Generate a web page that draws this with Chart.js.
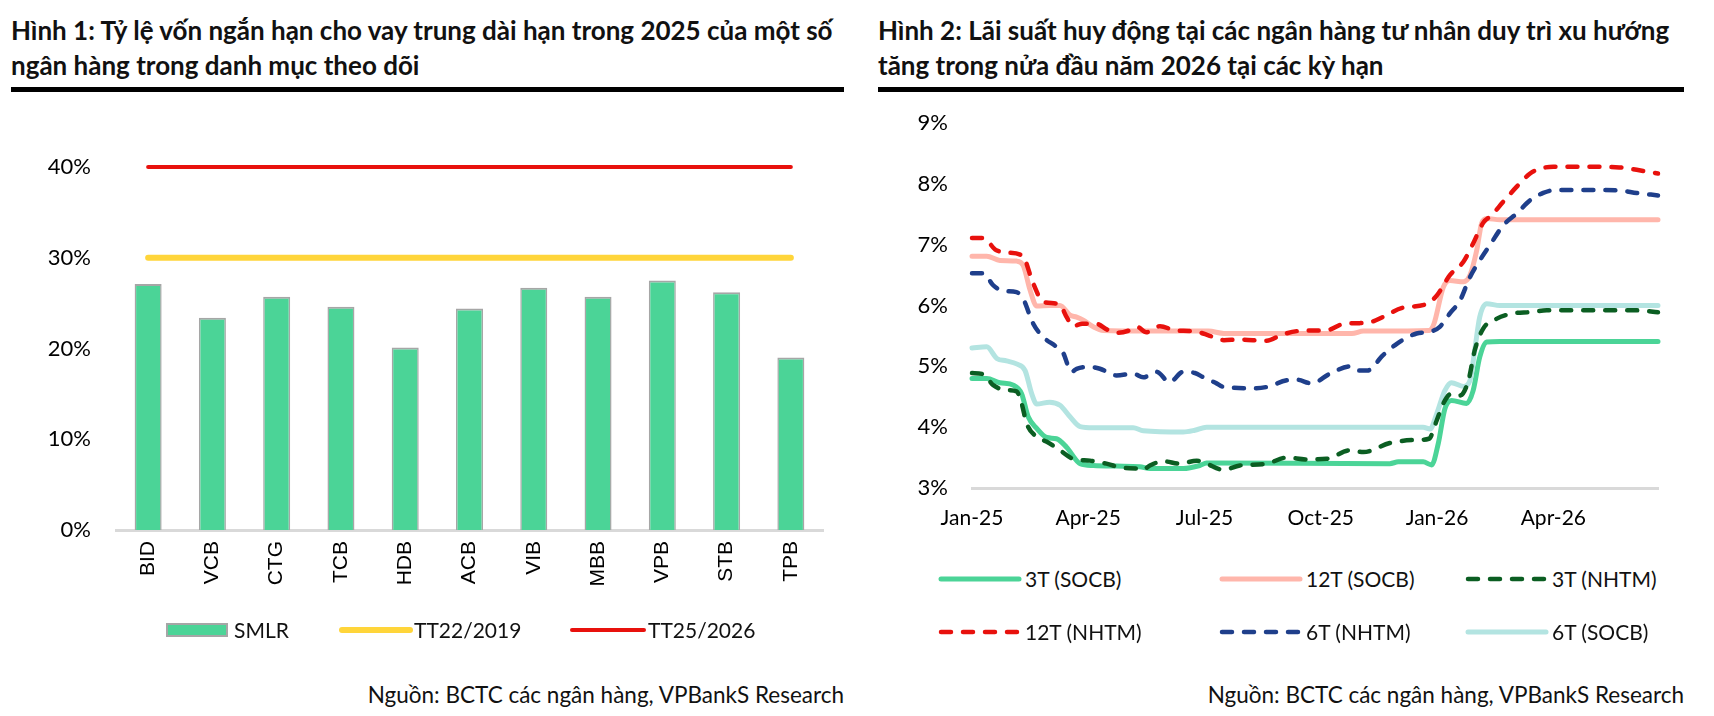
<!DOCTYPE html>
<html lang="vi">
<head>
<meta charset="utf-8">
<title>Hình 1 - Hình 2</title>
<script src="https://cdn.jsdelivr.net/npm/chart.js@4.4.1/dist/chart.umd.min.js"></script>
<style>
  body { margin: 0; width: 1714px; height: 716px; background: #fff; position: relative; overflow: hidden; font-family: Lato, sans-serif; color: #111; }
  .title { position: absolute; top: 13px; font-weight: 700; font-size: 26px; line-height: 35px; white-space: nowrap; }
  .rule { position: absolute; top: 87px; height: 5px; background: #000; }
  .src { position: absolute; top: 682px; font-size: 22.5px; line-height: 26px; white-space: nowrap; }
  .lg { position: absolute; font-size: 21px; line-height: 24px; white-space: nowrap; }
  .lgsym { position: absolute; }
  canvas { position: absolute; }
</style>
</head>
<body>

<div class="title" style="left:11px">Hình 1: Tỷ lệ vốn ngắn hạn cho vay trung dài hạn trong 2025 của một số<br>ngân hàng trong danh mục theo dõi</div>
<div class="rule" style="left:11px; width:833px"></div>
<canvas id="smlrChart" width="857" height="620" style="left:0; top:0; width:857px; height:620px"></canvas>
<div id="legend1"></div>
<div class="src" style="right:870px">Nguồn: BCTC các ngân hàng, VPBankS Research</div>

<div class="title" style="left:878px">Hình 2: Lãi suất huy động tại các ngân hàng tư nhân duy trì xu hướng<br>tăng trong nửa đầu năm 2026 tại các kỳ hạn</div>
<div class="rule" style="left:878px; width:806px"></div>
<canvas id="rateChart" width="857" height="560" style="left:857px; top:0; width:857px; height:560px"></canvas>
<div id="legend2"></div>
<div class="src" style="right:30px">Nguồn: BCTC các ngân hàng, VPBankS Research</div>

<script>
// ---- Hình 1 ----
const banks = ["BID", "VCB", "CTG", "TCB", "HDB", "ACB", "VIB", "MBB", "VPB", "STB", "TPB"];
const smlr = [27.1, 23.4, 25.7, 24.6, 20.1, 24.4, 26.7, 25.7, 27.5, 26.2, 19.0];
const tt22 = [30, 30, 30, 30, 30, 30, 30, 30, 30, 30, 30];
const tt25 = [40, 40, 40, 40, 40, 40, 40, 40, 40, 40, 40];

// ---- Hình 2 ---- (x = tháng tính từ 01/2025)
const quarterLabels = ["Jan-25", "Apr-25", "Jul-25", "Oct-25", "Jan-26", "Apr-26"];
const socb3T = [[0,4.8],[0.38,4.8],[0.72,4.73],[1.07,4.69],[1.28,4.55],[1.45,4.17],[1.67,3.98],[1.93,3.83],[2.18,3.81],[2.44,3.67],[2.79,3.4],[3.13,3.37],[3.73,3.36],[4.33,3.35],[4.59,3.32],[5.45,3.32],[5.88,3.37],[6.05,3.41],[10.78,3.4],[11.0,3.43],[11.64,3.43],[11.86,3.38],[12.03,3.73],[12.2,4.3],[12.37,4.44],[12.76,4.39],[12.93,4.6],[13.1,5.15],[13.28,5.4],[13.62,5.41],[17.7,5.41]];
const socb12T = [[0,6.81],[0.38,6.81],[0.72,6.74],[1.15,6.73],[1.32,6.66],[1.5,6.25],[1.67,5.99],[2.0,6.0],[2.27,6.0],[2.53,5.84],[2.7,5.81],[2.87,5.76],[3.13,5.65],[3.39,5.59],[4.5,5.58],[6.1,5.58],[6.5,5.54],[9.8,5.54],[10.1,5.58],[11.8,5.59],[11.92,5.7],[12.16,6.3],[12.33,6.41],[12.68,6.39],[12.85,6.5],[13.02,6.9],[13.15,7.35],[13.28,7.43],[13.62,7.41],[17.7,7.41]];
const nhtm3T = [[0,4.89],[0.29,4.87],[0.55,4.69],[0.89,4.61],[1.15,4.59],[1.28,4.39],[1.41,4.06],[1.67,3.84],[1.93,3.76],[2.27,3.62],[2.61,3.48],[3.04,3.45],[3.47,3.4],[3.9,3.33],[4.25,3.32],[4.38,3.29],[4.59,3.37],[4.93,3.44],[5.37,3.4],[5.8,3.45],[6.05,3.4],[6.48,3.3],[6.91,3.37],[7.6,3.4],[8.12,3.5],[8.63,3.47],[9.15,3.48],[9.75,3.62],[10.1,3.59],[10.78,3.74],[11.47,3.79],[11.79,3.81],[11.99,4.11],[12.16,4.39],[12.37,4.55],[12.59,4.52],[12.81,4.77],[12.97,5.26],[13.19,5.62],[13.53,5.78],[13.96,5.87],[14.4,5.89],[14.83,5.92],[15.86,5.92],[17.15,5.92],[17.7,5.89]];
const nhtm12T = [[0,7.11],[0.3,7.11],[0.6,6.92],[0.9,6.87],[1.3,6.82],[1.58,6.36],[1.84,6.06],[2.25,6.02],[2.45,5.8],[2.6,5.66],[2.85,5.7],[3.2,5.7],[3.5,5.6],[3.75,5.55],[4.1,5.6],[4.25,5.65],[4.5,5.56],[4.85,5.66],[5.25,5.59],[5.6,5.58],[5.85,5.56],[6.1,5.51],[6.5,5.43],[6.9,5.44],[7.6,5.42],[8.0,5.52],[8.4,5.58],[8.9,5.59],[9.2,5.6],[9.6,5.7],[10.0,5.71],[10.3,5.73],[10.6,5.81],[11.1,5.96],[11.75,6.03],[12.0,6.17],[12.33,6.5],[12.68,6.72],[12.93,7.02],[13.2,7.37],[13.4,7.48],[13.7,7.7],[14.05,7.95],[14.4,8.17],[14.66,8.25],[15.0,8.28],[15.9,8.28],[16.7,8.27],[17.15,8.23],[17.7,8.17]];
const nhtm6T = [[0,6.53],[0.29,6.53],[0.55,6.33],[0.81,6.24],[1.15,6.22],[1.32,6.11],[1.58,5.7],[1.84,5.48],[2.18,5.32],[2.36,5.21],[2.49,4.99],[2.57,4.91],[2.7,4.96],[3.04,4.99],[3.3,4.96],[3.73,4.85],[4.16,4.88],[4.42,4.82],[4.76,4.91],[5.1,4.74],[5.45,4.91],[5.75,4.89],[5.97,4.82],[6.31,4.72],[6.5,4.66],[7.34,4.64],[7.6,4.66],[8.12,4.77],[8.38,4.78],[8.76,4.72],[9.24,4.88],[9.75,5.0],[10.0,4.93],[10.2,4.93],[10.6,5.18],[10.96,5.37],[11.47,5.54],[11.82,5.57],[12.07,5.65],[12.33,5.87],[12.59,6.08],[12.85,6.47],[13.1,6.74],[13.36,6.99],[13.71,7.32],[14.05,7.51],[14.4,7.73],[14.74,7.85],[15.08,7.9],[15.86,7.9],[16.72,7.89],[17.15,7.85],[17.7,7.81]];
const socb6T = [[0,5.3],[0.38,5.32],[0.64,5.13],[0.89,5.09],[1.15,5.04],[1.37,4.93],[1.54,4.55],[1.67,4.38],[2.0,4.41],[2.27,4.36],[2.53,4.17],[2.79,4.01],[3.13,3.99],[4.16,3.99],[4.42,3.94],[5.45,3.92],[5.75,3.95],[6.05,4.0],[11.64,4.0],[11.82,3.97],[11.99,4.22],[12.2,4.6],[12.37,4.73],[12.68,4.67],[12.85,4.77],[12.97,5.26],[13.1,5.81],[13.28,6.03],[13.62,6.0],[17.7,6.0]];

const GREEN = "#4BD497", PINK = "#FFB6AB", DKGREEN = "#0B5E22", RED = "#E8110D", BLUE = "#1F3F8B", CYAN = "#B3E4E1";
const YELLOW = "#FFD53A", BAR_EDGE = "#A6A6A6", AXIS = "#D9D9D9";
const DASH = [10, 12];

function toXY(arr) {
  return arr.map(p => ({ x: p[0], y: p[1] }));
}

// ---------- chart 1 ----------
new Chart(document.getElementById("smlrChart"), {
  type: "bar",
  data: {
    labels: banks,
    datasets: [
      { type: "line", label: "TT25/2026", data: tt25, borderColor: RED, borderWidth: 4, pointRadius: 0, borderCapStyle: "round", clip: false, order: 0 },
      { type: "line", label: "TT22/2019", data: tt22, borderColor: YELLOW, borderWidth: 6, pointRadius: 0, borderCapStyle: "round", clip: false, order: 1 },
      { label: "SMLR", data: smlr, backgroundColor: GREEN, borderColor: BAR_EDGE,
        borderWidth: { top: 2, left: 1.5, right: 1.5, bottom: 0 }, borderSkipped: "bottom",
        categoryPercentage: 1, barPercentage: 0.42, order: 2 }
    ]
  },
  options: {
    responsive: false,
    animation: false,
    layout: { padding: { top: 167, right: 34, left: 0, bottom: 0 } },
    plugins: { legend: { display: false }, tooltip: { enabled: false } },
    scales: {
      x: {
        grid: { display: false, drawTicks: false },
        border: { display: true, color: AXIS, width: 3 },
        ticks: { color: "#000", font: { family: "'Liberation Sans', Arial, sans-serif", size: 21 }, minRotation: 90, maxRotation: 90, padding: 11 },
        afterFit: s => { s.height = 90; }
      },
      y: {
        min: 0, max: 40,
        grid: { display: false, drawTicks: false },
        border: { display: false },
        ticks: { stepSize: 10, color: "#000", font: { family: "Lato, sans-serif", size: 22 }, padding: 25, callback: v => v + "%" },
        afterFit: s => { s.width = 116; }
      }
    }
  }
});

// ---------- chart 2 ----------
function lineSet(label, pts, color, dashed) {
  return {
    label: label, data: toXY(pts), borderColor: color, backgroundColor: color,
    borderWidth: dashed ? 4.5 : 5, borderDash: dashed ? DASH : [], borderCapStyle: "round", borderJoinStyle: "round",
    pointRadius: 0, cubicInterpolationMode: "monotone", clip: false
  };
}

new Chart(document.getElementById("rateChart"), {
  type: "line",
  data: {
    datasets: [
      lineSet("12T (NHTM)", nhtm12T, RED, true),
      lineSet("6T (NHTM)", nhtm6T, BLUE, true),
      lineSet("3T (NHTM)", nhtm3T, DKGREEN, true),
      lineSet("12T (SOCB)", socb12T, PINK, false),
      lineSet("6T (SOCB)", socb6T, CYAN, false),
      lineSet("3T (SOCB)", socb3T, GREEN, false)
    ]
  },
  options: {
    responsive: false,
    animation: false,
    layout: { padding: { top: 123, right: 56, left: 0, bottom: 0 } },
    plugins: { legend: { display: false }, tooltip: { enabled: false } },
    scales: {
      x: {
        type: "linear", min: 0, max: 17.7,
        grid: { display: false, drawTicks: false },
        border: { display: true, color: AXIS, width: 3 },
        ticks: { stepSize: 3, includeBounds: false, color: "#000", font: { family: "Lato, sans-serif", size: 21 }, padding: 18, maxRotation: 0,
          callback: v => quarterLabels[v / 3] },
        afterFit: s => { s.height = 72; }
      },
      y: {
        min: 3, max: 9,
        grid: { display: false, drawTicks: false },
        border: { display: false },
        ticks: { stepSize: 1, color: "#000", font: { family: "Lato, sans-serif", size: 22 }, padding: 24, callback: v => v + "%" },
        afterFit: s => { s.width = 115; }
      }
    }
  }
});

// ---------- legends ----------
function lineSym(x, y, w, color, width, dash) {
  const d = dash ? ` stroke-dasharray="${dash.join(" ")}"` : "";
  return `<svg class="lgsym" style="left:${x}px; top:${y - 6}px" width="${w + 8}" height="12">
    <line x1="4" y1="6" x2="${w + 4}" y2="6" stroke="${color}" stroke-width="${width}" stroke-linecap="round"${d}/></svg>`;
}
function text(x, y, t) {
  return `<div class="lg" style="left:${x}px; top:${y - 12}px">${t}</div>`;
}

document.getElementById("legend1").innerHTML =
  `<div class="lgsym" style="left:166px; top:623px; width:62px; height:14px; background:${GREEN}; border:2px solid ${BAR_EDGE}; box-sizing:border-box"></div>` +
  text(234, 630, "SMLR") +
  lineSym(338, 630, 68, YELLOW, 6) + text(414, 630, "TT22/2019") +
  lineSym(568, 630, 72, RED, 4) + text(648, 630, "TT25/2026");

const cols = [937, 1218, 1464];
document.getElementById("legend2").innerHTML =
  lineSym(cols[0], 579, 78, GREEN, 5) + text(cols[0] + 88, 579, "3T (SOCB)") +
  lineSym(cols[1], 579, 78, PINK, 5) + text(cols[1] + 88, 579, "12T (SOCB)") +
  lineSym(cols[2], 579, 78, DKGREEN, 4.5, DASH) + text(cols[2] + 88, 579, "3T (NHTM)") +
  lineSym(cols[0], 632, 78, RED, 4.5, DASH) + text(cols[0] + 88, 632, "12T (NHTM)") +
  lineSym(cols[1], 632, 78, BLUE, 4.5, DASH) + text(cols[1] + 88, 632, "6T (NHTM)") +
  lineSym(cols[2], 632, 78, CYAN, 5) + text(cols[2] + 88, 632, "6T (SOCB)");
</script>
</body>
</html>
